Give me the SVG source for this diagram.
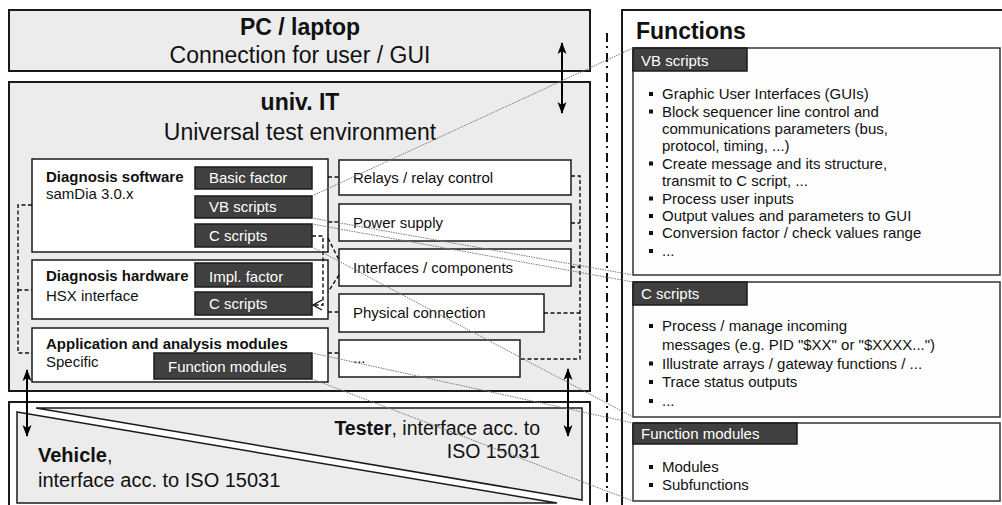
<svg xmlns="http://www.w3.org/2000/svg" width="1002" height="505" viewBox="0 0 1002 505">
  <defs>
    <style>
      text { font-family: "Liberation Sans", Arial, sans-serif; fill: #111; }
      .frame { fill: #ececec; stroke: #1a1a1a; stroke-width: 2; }
      .box { fill: #fff; stroke: #1a1a1a; stroke-width: 1.5; }
      .dark { fill: #404040; stroke: #1a1a1a; stroke-width: 1.5; }
      .panel { fill: #fdfdfd; stroke: #333; stroke-width: 1.5; }
      .big { font-size: 23px; }
      .mid { text-anchor: middle; }
      .end { text-anchor: end; }
      .b { font-weight: bold; }
      .lbl { font-size: 15px; }
      .wt { font-size: 15px; fill: #fff; }
      .iso { font-size: 19.5px; }
      .veh { font-size: 20px; }
      .dash { fill: none; stroke: #111; stroke-width: 1.4; stroke-dasharray: 4 2.5; }
      .call { fill: none; stroke: #7a7a7a; stroke-width: 1; stroke-dasharray: 1.5 1; }
      .arrow { fill: none; stroke: #000; stroke-width: 2; marker-start: url(#ah); marker-end: url(#ah); }
      .sep { fill: none; stroke: #111; stroke-width: 2; stroke-dasharray: 9 4 2 5; }
      .bul { fill: #111; }
    </style>
    <marker id="ah" viewBox="0 0 12 10" refX="11" refY="5" markerWidth="12" markerHeight="10" markerUnits="userSpaceOnUse" orient="auto-start-reverse">
      <path d="M0,0.5 L12,5 L0,9.5 L3,5 Z" fill="#000"/>
    </marker>
    <rect id="dot" x="-2" y="-2" width="4" height="4"/>
  </defs>

  <!-- PC / laptop -->
  <g id="pc">
    <rect class="frame" x="9" y="10" width="581" height="61"/>
    <text class="big b mid" x="300" y="35">PC / laptop</text>
    <text class="big mid" x="300" y="63">Connection for user / GUI</text>
  </g>

  <!-- univ. IT frame -->
  <g id="univ-it">
    <rect class="frame" x="9" y="82" width="581" height="309"/>
    <text class="big b mid" x="300" y="110">univ. IT</text>
    <text class="big mid" x="300" y="140">Universal test environment</text>
  </g>

  <g id="diag-software">
    <rect class="box" x="32" y="159" width="296" height="93"/>
    <text class="lbl b" x="46" y="182">Diagnosis software</text>
    <text class="lbl" x="46" y="199">samDia 3.0.x</text>
  </g>
  <g id="basic-factor">
    <rect class="dark" x="195" y="167" width="117" height="22"/>
    <text class="wt" x="209" y="183">Basic factor</text>
  </g>
  <g id="vb-scripts">
    <rect class="dark" x="195" y="196" width="117" height="22"/>
    <text class="wt" x="209" y="212">VB scripts</text>
  </g>
  <g id="c-scripts-sw">
    <rect class="dark" x="195" y="224" width="117" height="23"/>
    <text class="wt" x="209" y="241">C scripts</text>
  </g>

  <g id="diag-hardware">
    <rect class="box" x="32" y="260" width="296" height="59"/>
    <text class="lbl b" x="46" y="281">Diagnosis hardware</text>
    <text class="lbl" x="46" y="301">HSX interface</text>
  </g>
  <g id="impl-factor">
    <rect class="dark" x="195" y="263" width="117" height="24"/>
    <text class="wt" x="209" y="282">Impl. factor</text>
  </g>
  <g id="c-scripts-hw">
    <rect class="dark" x="195" y="292" width="117" height="23"/>
    <text class="wt" x="209" y="309">C scripts</text>
  </g>

  <g id="app-modules">
    <rect class="box" x="32" y="328" width="296" height="54"/>
    <text class="lbl b" x="46" y="349">Application and analysis modules</text>
    <text class="lbl" x="46" y="367">Specific</text>
  </g>
  <g id="function-modules">
    <rect class="dark" x="154" y="353" width="158" height="26"/>
    <text class="wt" x="168" y="372">Function modules</text>
  </g>

  <g id="relays">
    <rect class="box" x="339" y="160" width="232" height="35"/>
    <text class="lbl" x="353" y="183">Relays / relay control</text>
  </g>
  <g id="power">
    <rect class="box" x="339" y="204" width="232" height="37"/>
    <text class="lbl" x="353" y="228">Power supply</text>
  </g>
  <g id="interfaces">
    <rect class="box" x="339" y="249" width="232" height="37"/>
    <text class="lbl" x="353" y="273">Interfaces / components</text>
  </g>
  <g id="physical">
    <rect class="box" x="339" y="294" width="205" height="38"/>
    <text class="lbl" x="353" y="318">Physical connection</text>
  </g>
  <g id="more">
    <rect class="box" x="339" y="340" width="181" height="37"/>
    <text class="lbl" x="353" y="363">...</text>
  </g>

  <!-- Vehicle / tester interface -->
  <g id="interface">
    <rect x="9" y="402" width="581" height="120" fill="#fff" stroke="#1a1a1a" stroke-width="2"/>
    <polygon points="36,408 582,408 582,500" fill="#ececec" stroke="#1a1a1a" stroke-width="1.5"/>
    <polygon points="17,412 557,503 17,503" fill="#ececec" stroke="#1a1a1a" stroke-width="1.5"/>
    <text class="iso end" x="540" y="435"><tspan class="b">Tester</tspan>, interface acc. to</text>
    <text class="iso end" x="540" y="458">ISO 15031</text>
    <text class="veh" x="38" y="462"><tspan class="b">Vehicle</tspan>,</text>
    <text class="veh" x="38" y="487">interface acc. to ISO 15031</text>
  </g>

  <!-- Functions panel -->
  <g id="functions">
    <rect x="622" y="10" width="400" height="510" fill="#fff" stroke="#1a1a1a" stroke-width="2"/>
    <text class="big b" x="636" y="39">Functions</text>
  </g>
  <g id="vb-panel">
    <rect class="panel" x="633" y="48" width="367" height="227"/>
    <rect class="dark" x="633" y="48" width="114" height="23"/>
    <text class="wt" x="641" y="66">VB scripts</text>
    <g class="bul">
      <use href="#dot" x="651" y="94"/>
      <use href="#dot" x="651" y="111.5"/>
      <use href="#dot" x="651" y="163.5"/>
      <use href="#dot" x="651" y="198.5"/>
      <use href="#dot" x="651" y="216"/>
      <use href="#dot" x="651" y="233"/>
      <use href="#dot" x="651" y="251"/>
    </g>
    <text class="lbl" x="662" y="99">Graphic User Interfaces (GUIs)</text>
    <text class="lbl" x="662" y="116.5">Block sequencer line control and</text>
    <text class="lbl" x="662" y="134">communications parameters (bus,</text>
    <text class="lbl" x="662" y="151">protocol, timing, ...)</text>
    <text class="lbl" x="662" y="168.5">Create message and its structure,</text>
    <text class="lbl" x="662" y="186">transmit to C script, ...</text>
    <text class="lbl" x="662" y="203.5">Process user inputs</text>
    <text class="lbl" x="662" y="221">Output values and parameters to GUI</text>
    <text class="lbl" x="662" y="238">Conversion factor / check values range</text>
    <text class="lbl" x="662" y="256">...</text>
  </g>
  <g id="c-panel">
    <rect class="panel" x="633" y="282" width="367" height="135"/>
    <rect class="dark" x="633" y="282" width="114" height="23"/>
    <text class="wt" x="641" y="299">C scripts</text>
    <g class="bul">
      <use href="#dot" x="651" y="326"/>
      <use href="#dot" x="651" y="363.5"/>
      <use href="#dot" x="651" y="382"/>
      <use href="#dot" x="651" y="401"/>
    </g>
    <text class="lbl" x="662" y="331">Process / manage incoming</text>
    <text class="lbl" x="662" y="350">messages (e.g. PID "$XX" or "$XXXX...")</text>
    <text class="lbl" x="662" y="368.5">Illustrate arrays / gateway functions / ...</text>
    <text class="lbl" x="662" y="387">Trace status outputs</text>
    <text class="lbl" x="662" y="406">...</text>
  </g>
  <g id="fm-panel">
    <rect class="panel" x="633" y="423" width="367" height="78"/>
    <rect class="dark" x="633" y="423" width="164" height="21"/>
    <text class="wt" x="641" y="439">Function modules</text>
    <g class="bul">
      <use href="#dot" x="651" y="467"/>
      <use href="#dot" x="651" y="485"/>
    </g>
    <text class="lbl" x="662" y="472">Modules</text>
    <text class="lbl" x="662" y="490">Subfunctions</text>
  </g>

  <!-- connectors -->
  <g id="connectors">
    <!-- dash-dot separator -->
    <line class="sep" x1="607" y1="33" x2="607" y2="505"/>
    <!-- left bus -->
    <path class="dash" d="M32,205 H18 V353 H32 M18,290 H32"/>
    <!-- right bus -->
    <path class="dash" d="M571,176 H580 V359 H520 M571,223 H580 M571,267 H580 M544,313 H580"/>
    <!-- links between software modules and hardware blocks -->
    <path class="dash" d="M328,177 H339 M328,222 H339 M328,238 L339,260 M339,275 L328,292 M328,312 H339 M328,353 H339"/>
    <path class="dash" d="M312,236 H323 V305 H314"/>
    <polyline points="322,300 313,305 322,310" fill="none" stroke="#111" stroke-width="1.3"/>
    <!-- data flow arrows -->
    <line class="arrow" x1="562" y1="43" x2="562" y2="113"/>
    <line class="arrow" x1="27" y1="370" x2="27" y2="436"/>
    <line class="arrow" x1="568" y1="369" x2="568" y2="436"/>
    <!-- callouts to the function descriptions -->
    <path class="call" d="M312,196 L633,48 M312,218 L633,275 M312,224 L633,282 M312,247 L633,417 M312,353 L633,423 M312,379 L633,501"/>
  </g>
</svg>
